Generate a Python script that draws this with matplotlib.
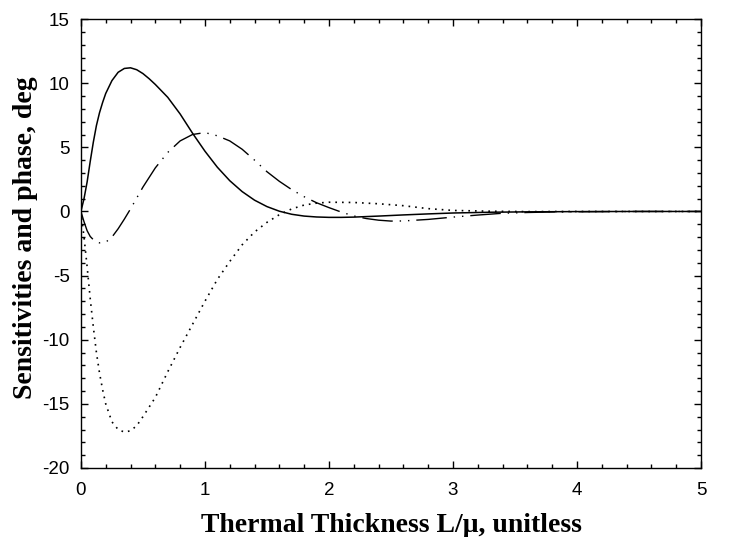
import matplotlib.pyplot as plt
from matplotlib.ticker import MultipleLocator

plt.rcParams['axes.unicode_minus'] = False

# ---- data ----
x_solid = [0, 0.025, 0.05, 0.075, 0.1, 0.125, 0.15, 0.175, 0.2, 0.25, 0.3, 0.35, 0.4, 0.45, 0.5,
           0.55, 0.6, 0.65, 0.7, 0.8, 0.9, 1.0, 1.1, 1.2, 1.3, 1.4, 1.5, 1.6, 1.7, 1.8, 1.9,
           2.0, 2.1, 2.2, 2.4, 2.6, 2.8, 3.0, 3.3, 3.6, 4.0, 4.5, 5.0]
y_solid = [0, 1.0, 2.3, 3.9, 5.4, 6.7, 7.7, 8.5, 9.2, 10.2, 10.85, 11.15, 11.2, 11.05, 10.75,
           10.35, 9.9, 9.4, 8.9, 7.6, 6.1, 4.7, 3.45, 2.4, 1.55, 0.88, 0.38, 0.02, -0.22, -0.36, -0.43,
           -0.46, -0.46, -0.44, -0.36, -0.27, -0.19, -0.12, -0.06, -0.03, -0.01, 0, 0]

x_dashdot = [0, 0.025, 0.05, 0.075, 0.1, 0.15, 0.2, 0.25, 0.3, 0.35, 0.4, 0.5, 0.6, 0.7, 0.8,
             0.9, 1.0, 1.1, 1.2, 1.3, 1.4, 1.5, 1.6, 1.7, 1.8, 1.9, 2.0, 2.1, 2.2, 2.3, 2.4,
             2.5, 2.6, 2.8, 3.0, 3.2, 3.4, 3.6, 3.8, 4.0, 4.5, 5.0]
y_dashdot = [0, -0.8, -1.5, -1.95, -2.2, -2.45, -2.4, -2.0, -1.35, -0.6, 0.2, 1.9, 3.4, 4.6, 5.5,
             6.0, 6.15, 5.9, 5.5, 4.85, 4.0, 3.1, 2.35, 1.7, 1.15, 0.68, 0.3, -0.05, -0.35, -0.55, -0.68,
             -0.75, -0.74, -0.62, -0.44, -0.28, -0.14, -0.08, -0.04, -0.02, 0, 0]

x_dotted = [0, 0.025, 0.05, 0.075, 0.1, 0.125, 0.15, 0.175, 0.2, 0.25, 0.3, 0.35, 0.4, 0.45, 0.5,
            0.6, 0.7, 0.8, 0.9, 1.0, 1.1, 1.2, 1.3, 1.4, 1.5, 1.6, 1.7, 1.8, 1.9, 2.0, 2.2,
            2.4, 2.6, 2.8, 3.0, 3.3, 3.6, 4.0, 4.5, 5.0]
y_dotted = [0, -2.0, -4.3, -6.8, -9.0, -11.0, -12.6, -13.9, -15.0, -16.4, -17.0, -17.2, -17.1, -16.7, -16.0,
            -14.5, -12.5, -10.6, -8.8, -7.0, -5.3, -3.9, -2.6, -1.6, -0.85, -0.25, 0.2, 0.5, 0.65, 0.72, 0.7,
            0.6, 0.45, 0.22, 0.08, 0.02, -0.01, 0, 0, 0]

# ---- figure ----
fig = plt.figure(figsize=(7.29, 5.37), dpi=100)
ax = fig.add_axes([0.111, 0.1285, 0.8506, 0.836])

ax.plot(x_solid, y_solid, color='black', lw=1.1)
ax.plot(x_dashdot, y_dashdot, color='black', lw=1.0, dashes=(22, 5, 1, 5, 1, 5))
ax.plot(x_dotted, y_dotted, color='black', lw=1.2, linestyle=(0, (1, 3)))

ax.set_xlim(0, 5)
ax.set_ylim(-20, 15)
ax.xaxis.set_major_locator(MultipleLocator(1))
ax.xaxis.set_minor_locator(MultipleLocator(0.2))
ax.yaxis.set_major_locator(MultipleLocator(5))
ax.yaxis.set_minor_locator(MultipleLocator(1))
ax.tick_params(which='both', direction='in', top=True, right=True, width=1.0)
ax.tick_params(which='major', length=5, labelsize=13.5, pad=8)
ax.tick_params(axis='x', which='major', pad=10)
ax.tick_params(which='minor', length=3)
for lab in ax.get_xticklabels() + ax.get_yticklabels():
    lab.set_family('Liberation Sans')
for sp in ax.spines.values():
    sp.set_linewidth(1.0)

ax.set_xlabel('Thermal Thickness L/\u03bc, unitless', family='Liberation Serif',
              fontweight='bold', fontsize=20, labelpad=10)
ax.set_ylabel('Sensitivities and phase, deg', family='Liberation Serif',
              fontweight='bold', fontsize=20)
ax.yaxis.set_label_coords(-0.07, 0.514)

fig.savefig('out.png', dpi=100)
